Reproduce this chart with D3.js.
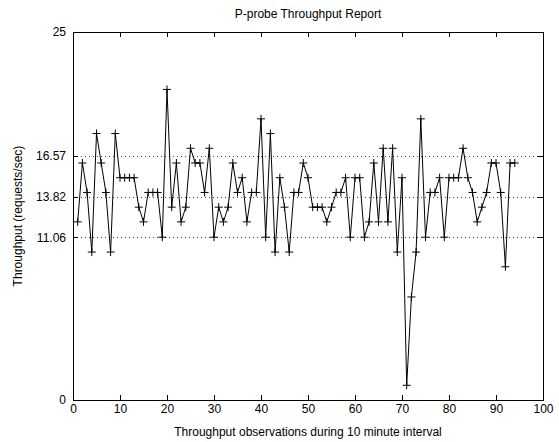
<!DOCTYPE html>
<html>
<head>
<meta charset="utf-8">
<script src="https://cdn.jsdelivr.net/npm/d3@7/dist/d3.min.js"></script>
<style>
  body { margin: 0; background: #fff; }
  svg text { font-family: "Liberation Sans", Arial, sans-serif; font-size: 12px; fill: #000; }
</style>
</head>
<body>
<div id="chart"></div>
<script>
var throughput = [
  12.1, 16.1, 14.1, 10.05, 18.1, 16.1, 14.1, 10.05, 18.1, 15.1,
  15.1, 15.1, 15.1, 13.1, 12.1, 14.1, 14.1, 14.1, 11.06, 21.1,
  13.1, 16.1, 12.1, 13.1, 17.1, 16.1, 16.1, 14.1, 17.1, 11.06,
  13.1, 12.1, 13.1, 16.1, 14.1, 15.1, 12.1, 14.1, 14.1, 19.1,
  11.06, 18.1, 10.05, 15.1, 13.1, 10.05, 14.1, 14.1, 16.1, 15.1,
  13.1, 13.1, 13.1, 12.1, 13.1, 14.1, 14.1, 15.1, 11.06, 15.1,
  15.1, 11.06, 12.1, 16.1, 12.1, 17.1, 12.1, 17.1, 10.05, 15.1,
  1.0, 7.0, 10.05, 19.1, 11.06, 14.1, 14.1, 15.1, 11.06, 15.1,
  15.1, 15.1, 17.1, 15.1, 14.1, 12.1, 13.1, 14.1, 16.1, 16.1,
  14.1, 9.05, 16.1, 16.1
];

var xTicks = [0, 10, 20, 30, 40, 50, 60, 70, 80, 90, 100];
var yTicks = [0, 11.06, 13.82, 16.57, 25];
// mean - std, mean, mean + std
var refLines = [11.06, 13.82, 16.57];

var titleText = "P-probe Throughput Report";
var xLabel = "Throughput observations during 10 minute interval";
var yLabel = "Throughput (requests/sec)";

// sizes
var W = 559, H = 442;
var margin = {top: 32, right: 16, bottom: 42, left: 73},
    width = W - margin.left - margin.right,
    height = H - margin.top - margin.bottom;

var svg = d3.select("#chart")
  .append("svg")
  .attr("width", W)
  .attr("height", H)
  .style("background", "#fff");

var g = svg.append("g")
  .attr("transform", "translate(" + margin.left + "," + margin.top + ")");

var x = d3.scaleLinear().domain([0, 100]).range([0, width]);
var y = d3.scaleLinear().domain([0, 25]).range([height, 0]);

// dotted reference lines
g.selectAll("line.ref")
  .data(refLines)
  .enter().append("line")
  .attr("class", "ref")
  .attr("x1", 0)
  .attr("x2", width)
  .attr("y1", function(d) { return Math.round(y(d)) + 0.5; })
  .attr("y2", function(d) { return Math.round(y(d)) + 0.5; })
  .attr("stroke", "#444")
  .attr("stroke-width", 1)
  .attr("stroke-dasharray", "1,3");

// axes, ticks point inward like matlab
function styleAxis(sel) {
  sel.select(".domain").remove();
  sel.selectAll(".tick line").attr("stroke", "#000").attr("shape-rendering", "crispEdges");
}

g.append("g")
  .attr("transform", "translate(0," + height + ")")
  .call(d3.axisBottom(x).tickValues(xTicks).tickSize(-5).tickPadding(4).tickFormat(function(d) { return d; }))
  .call(styleAxis);

g.append("g")
  .call(d3.axisTop(x).tickValues(xTicks).tickSize(-5).tickFormat(""))
  .call(styleAxis);

g.append("g")
  .call(d3.axisLeft(y).tickValues(yTicks).tickSize(-5).tickPadding(7).tickFormat(function(d) { return d; }))
  .call(styleAxis);

g.append("g")
  .attr("transform", "translate(" + width + ",0)")
  .call(d3.axisRight(y).tickValues(yTicks).tickSize(-5).tickFormat(""))
  .call(styleAxis);

g.selectAll(".tick text")
  .style("font-family", "'Liberation Sans', Arial, sans-serif")
  .style("font-size", "12px")
  .attr("fill", "#000");

// box
g.append("rect")
  .attr("x", 0.5)
  .attr("y", 0.5)
  .attr("width", width)
  .attr("height", height)
  .attr("fill", "none")
  .attr("stroke", "#000")
  .attr("shape-rendering", "crispEdges");

// the series
var line = d3.line()
  .x(function(d, i) { return x(i + 1); })
  .y(function(d) { return y(d); });

g.append("path")
  .datum(throughput)
  .attr("d", line)
  .attr("fill", "none")
  .attr("stroke", "#000")
  .attr("stroke-width", 1);

// + markers
var m = 4;
var marks = g.selectAll("g.mark")
  .data(throughput)
  .enter().append("g")
  .attr("class", "mark")
  .attr("transform", function(d, i) { return "translate(" + x(i + 1) + "," + y(d) + ")"; });
marks.append("line").attr("x1", -m).attr("x2", m).attr("y1", 0).attr("y2", 0).attr("stroke", "#000");
marks.append("line").attr("x1", 0).attr("x2", 0).attr("y1", -m).attr("y2", m).attr("stroke", "#000");

// labels
svg.append("text")
  .attr("x", margin.left + width / 2)
  .attr("y", 18)
  .attr("text-anchor", "middle")
  .text(titleText);

svg.append("text")
  .attr("x", margin.left + width / 2)
  .attr("y", 436)
  .attr("text-anchor", "middle")
  .text(xLabel);

svg.append("text")
  .attr("transform", "translate(22," + (margin.top + height / 2) + ") rotate(-90)")
  .attr("text-anchor", "middle")
  .text(yLabel);
</script>
</body>
</html>
